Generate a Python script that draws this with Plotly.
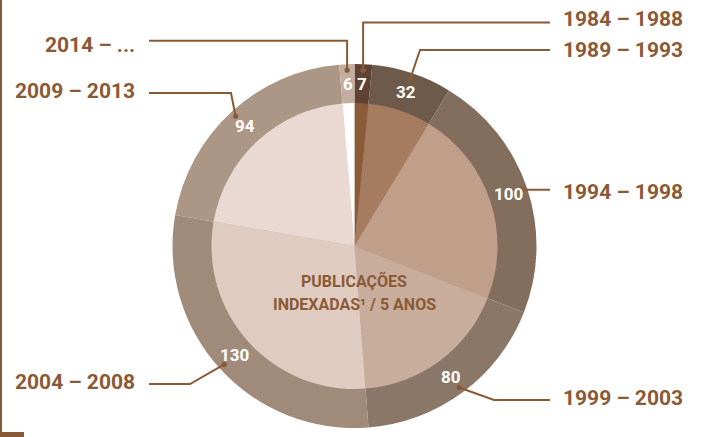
import math
import plotly.graph_objects as go

# ---- data ----
periods = ["1984 – 1988", "1989 – 1993", "1994 – 1998", "1999 – 2003",
           "2004 – 2008", "2009 – 2013", "2014 – ..."]
counts = [7, 32, 100, 80, 130, 94, 6]
outer_colors = ["#5e4334", "#6e5a4a", "#836d5d", "#8b7767", "#a08b7b", "#ac9686", "#c3ad9f"]
inner_colors = ["#8b5c37", "#a67c60", "#bf9f89", "#c9ad9c", "#dfcbc0", "#ead9d2", "#ffffff"]
center_lines = ["PUBLICAÇÕES", "INDEXADAS¹ / 5 ANOS"]

# ---- layout constants (pixels) ----
W, H = 702, 437
CX, CY = 354.5, 246
R_OUT, R_IN = 182, 143
BROWN = "#8a5a36"
FONT = "Roboto"

def px(x):
    return x / W

def py(y):
    return 1 - y / H

# label placement: side, y of horizontal leader, y of text centre, elbow x (None = vertical)
label_layout = [
    dict(side="right", line_y=22.5, text_y=19, elbow_x=None),
    dict(side="right", line_y=50, text_y=49.5, elbow_x=420),
    dict(side="right", line_y=None, text_y=192, elbow_x=None),
    dict(side="right", line_y=400, text_y=397.5, elbow_x=494),
    dict(side="left", line_y=384, text_y=382, elbow_x=190),
    dict(side="left", line_y=93, text_y=91, elbow_x=231),
    dict(side="left", line_y=40.7, text_y=45, elbow_x=None),
]

fig = go.Figure()

fig.add_trace(go.Pie(
    values=counts, labels=periods, sort=False, direction="clockwise", rotation=0,
    marker=dict(colors=outer_colors, line=dict(width=0)),
    textinfo="none", hoverinfo="label+value", showlegend=False,
    domain=dict(x=[px(CX - R_OUT), px(CX + R_OUT)], y=[py(CY + R_OUT), py(CY - R_OUT)]),
))
fig.add_trace(go.Pie(
    values=counts, labels=periods, sort=False, direction="clockwise", rotation=0,
    marker=dict(colors=inner_colors, line=dict(width=0)),
    textinfo="none", hoverinfo="label+value", showlegend=False,
    domain=dict(x=[px(CX - R_IN), px(CX + R_IN)], y=[py(CY + R_IN), py(CY - R_IN)]),
))

total = sum(counts)
shapes = []
annotations = []
cum = 0
for i, (p, v) in enumerate(zip(periods, counts)):
    mid = (cum + v / 2) / total * 2 * math.pi
    cum += v
    # value label in ring
    rl = (R_OUT + R_IN) / 2
    lx, ly = CX + rl * math.sin(mid), CY - rl * math.cos(mid)
    annotations.append(dict(
        x=px(lx), y=py(ly), xref="paper", yref="paper", text=f"<b>{v}</b>",
        showarrow=False, xanchor="center", yanchor="middle",
        font=dict(family=FONT, size=17, color="white"),
    ))
    # leader line
    rd = 176
    dx, dy = CX + rd * math.sin(mid), CY - rd * math.cos(mid)
    lay = label_layout[i]
    end_x = 550 if lay["side"] == "right" else 149
    line_y = lay["line_y"] if lay["line_y"] is not None else dy
    ex = dx if lay["elbow_x"] is None else lay["elbow_x"]
    path = f"M {px(dx)},{py(dy)} L {px(ex)},{py(line_y)} L {px(end_x)},{py(line_y)}"
    shapes.append(dict(type="path", path=path, xref="paper", yref="paper",
                       line=dict(color=BROWN, width=2), layer="above"))
    rdot = 2.6
    shapes.append(dict(type="circle", xref="paper", yref="paper",
                       x0=px(dx - rdot), x1=px(dx + rdot), y0=py(dy + rdot), y1=py(dy - rdot),
                       fillcolor=BROWN, line=dict(width=0), layer="above"))
    # period label
    if lay["side"] == "right":
        tx, xa = 561, "left"
    else:
        tx, xa = 137, "right"
    annotations.append(dict(
        x=px(tx), y=py(lay["text_y"]), xref="paper", yref="paper", text=f"<b>{p}</b>",
        showarrow=False, xanchor=xa, yanchor="middle",
        font=dict(family=FONT, size=21, color=BROWN),
    ))

# centre text
for j, (t, yy) in enumerate(zip(center_lines, [281, 304.5])):
    annotations.append(dict(
        x=px(CX), y=py(yy), xref="paper", yref="paper", text=f"<b>{t}</b>",
        showarrow=False, xanchor="center", yanchor="middle",
        font=dict(family=FONT, size=16, color=BROWN),
    ))

# left frame line and bottom tab
shapes.append(dict(type="line", xref="paper", yref="paper", x0=px(1), x1=px(1), y0=py(0), y1=py(434),
                   line=dict(color=BROWN, width=2), layer="above"))
shapes.append(dict(type="rect", xref="paper", yref="paper", x0=px(0), x1=px(24), y0=py(437), y1=py(432),
                   fillcolor=BROWN, line=dict(width=0), layer="above"))

fig.update_layout(
    width=W, height=H, margin=dict(l=0, r=0, t=0, b=0),
    paper_bgcolor="white", plot_bgcolor="white",
    shapes=shapes, annotations=annotations, showlegend=False,
)

fig.write_html("out.html", config={"displayModeBar": False},
               post_script="document.body.style.margin='0';document.body.style.overflow='hidden';")
